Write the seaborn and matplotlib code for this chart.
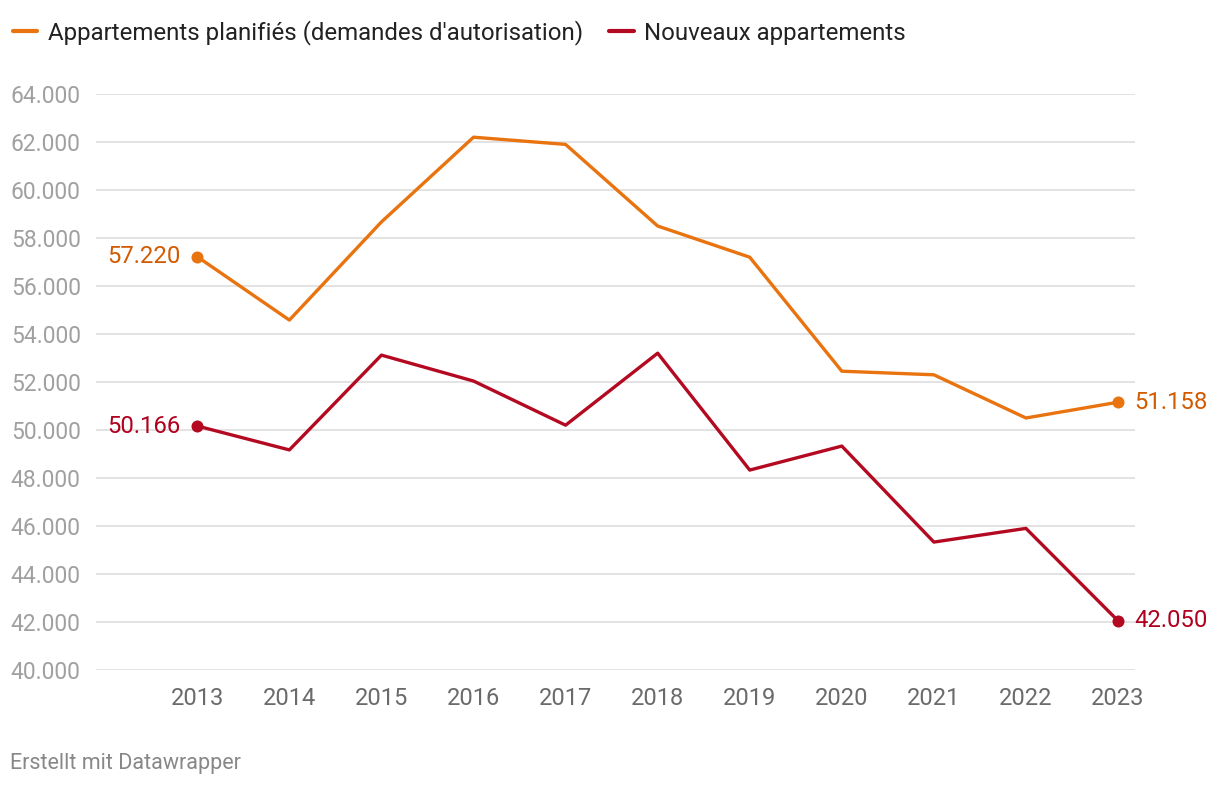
import matplotlib as mpl
from matplotlib import pyplot as plt
import seaborn as sns
import numpy as np
import pandas as pd

years = [2013, 2014, 2015, 2016, 2017, 2018, 2019, 2020, 2021, 2022, 2023]
planned = [57220, 54580, 58670, 62200, 61900, 58500, 57200, 52450, 52300, 50500, 51158]
new_flats = [50166, 49170, 53120, 52040, 50200, 53200, 48330, 49330, 45330, 45900, 42050]
series_names = ["Appartements planifiés (demandes d'autorisation)", "Nouveaux appartements"]
yticks = list(range(40000, 64001, 2000))

colors = {series_names[0]: "#e8730f", series_names[1]: "#b30a22"}
label_colors = {series_names[0]: "#d25a00", series_names[1]: "#b0001e"}

df = pd.concat([
    pd.DataFrame({"Jahr": years, "Wert": planned, "Serie": series_names[0]}),
    pd.DataFrame({"Jahr": years, "Wert": new_flats, "Serie": series_names[1]}),
])

def fmt(v):
    return f"{v:,.0f}".replace(",", ".")

sns.set_theme(style="white")
plt.rcParams["font.family"] = ["Roboto", "DejaVu Sans"]

fig = plt.figure(figsize=(12.2, 7.86), dpi=100)
ax = fig.add_axes([0.0787, 0.1476, 0.8513, 0.7328])

sns.lineplot(data=df, x="Jahr", y="Wert", hue="Serie", palette=colors,
             linewidth=2.4, legend=False, ax=ax, zorder=3)

for name, vals in zip(series_names, [planned, new_flats]):
    ends = [0, len(years) - 1]
    ax.scatter([years[i] for i in ends], [vals[i] for i in ends],
               s=75, color=colors[name], zorder=4, linewidths=0)
    ax.text(years[0] - 0.18, vals[0], fmt(vals[0]), ha="right", va="center",
            fontsize=17.2, color=label_colors[name])
    ax.text(years[-1] + 0.18, vals[-1], fmt(vals[-1]), ha="left", va="center",
            fontsize=17.2, color=label_colors[name])

ax.set_xlim(2011.9, 2023.18)
ax.set_ylim(40000, 64000)
ax.set_yticks(yticks)
ax.set_yticklabels([fmt(t) for t in yticks])
ax.set_xticks(years)
ax.set_xticklabels([str(y) for y in years])
ax.tick_params(axis="y", colors="#a0a0a0", labelsize=16.4, length=0, pad=11)
ax.tick_params(axis="x", colors="#6a6a6a", labelsize=17, length=0, pad=12)
ax.grid(axis="y", color="#e0e0e0", linewidth=1.3, zorder=0)
ax.set_axisbelow(True)
for s in ax.spines.values():
    s.set_visible(False)
ax.set_xlabel("")
ax.set_ylabel("")

# legend at top
handles = [mpl.lines.Line2D([], [], color=colors[n], linewidth=3, solid_capstyle="round") for n in series_names]
fig.legend(handles, series_names, loc="upper left", bbox_to_anchor=(-0.006, 1.0),
           ncol=2, frameon=False, fontsize=17.3, handlelength=1.0, handletextpad=0.45,
           columnspacing=1.1, labelcolor="#222222", borderaxespad=0.45)

fig.text(0.008, 0.022, "Erstellt mit Datawrapper", fontsize=15.5, color="#888888")

plt.savefig("out.png", dpi=100)
